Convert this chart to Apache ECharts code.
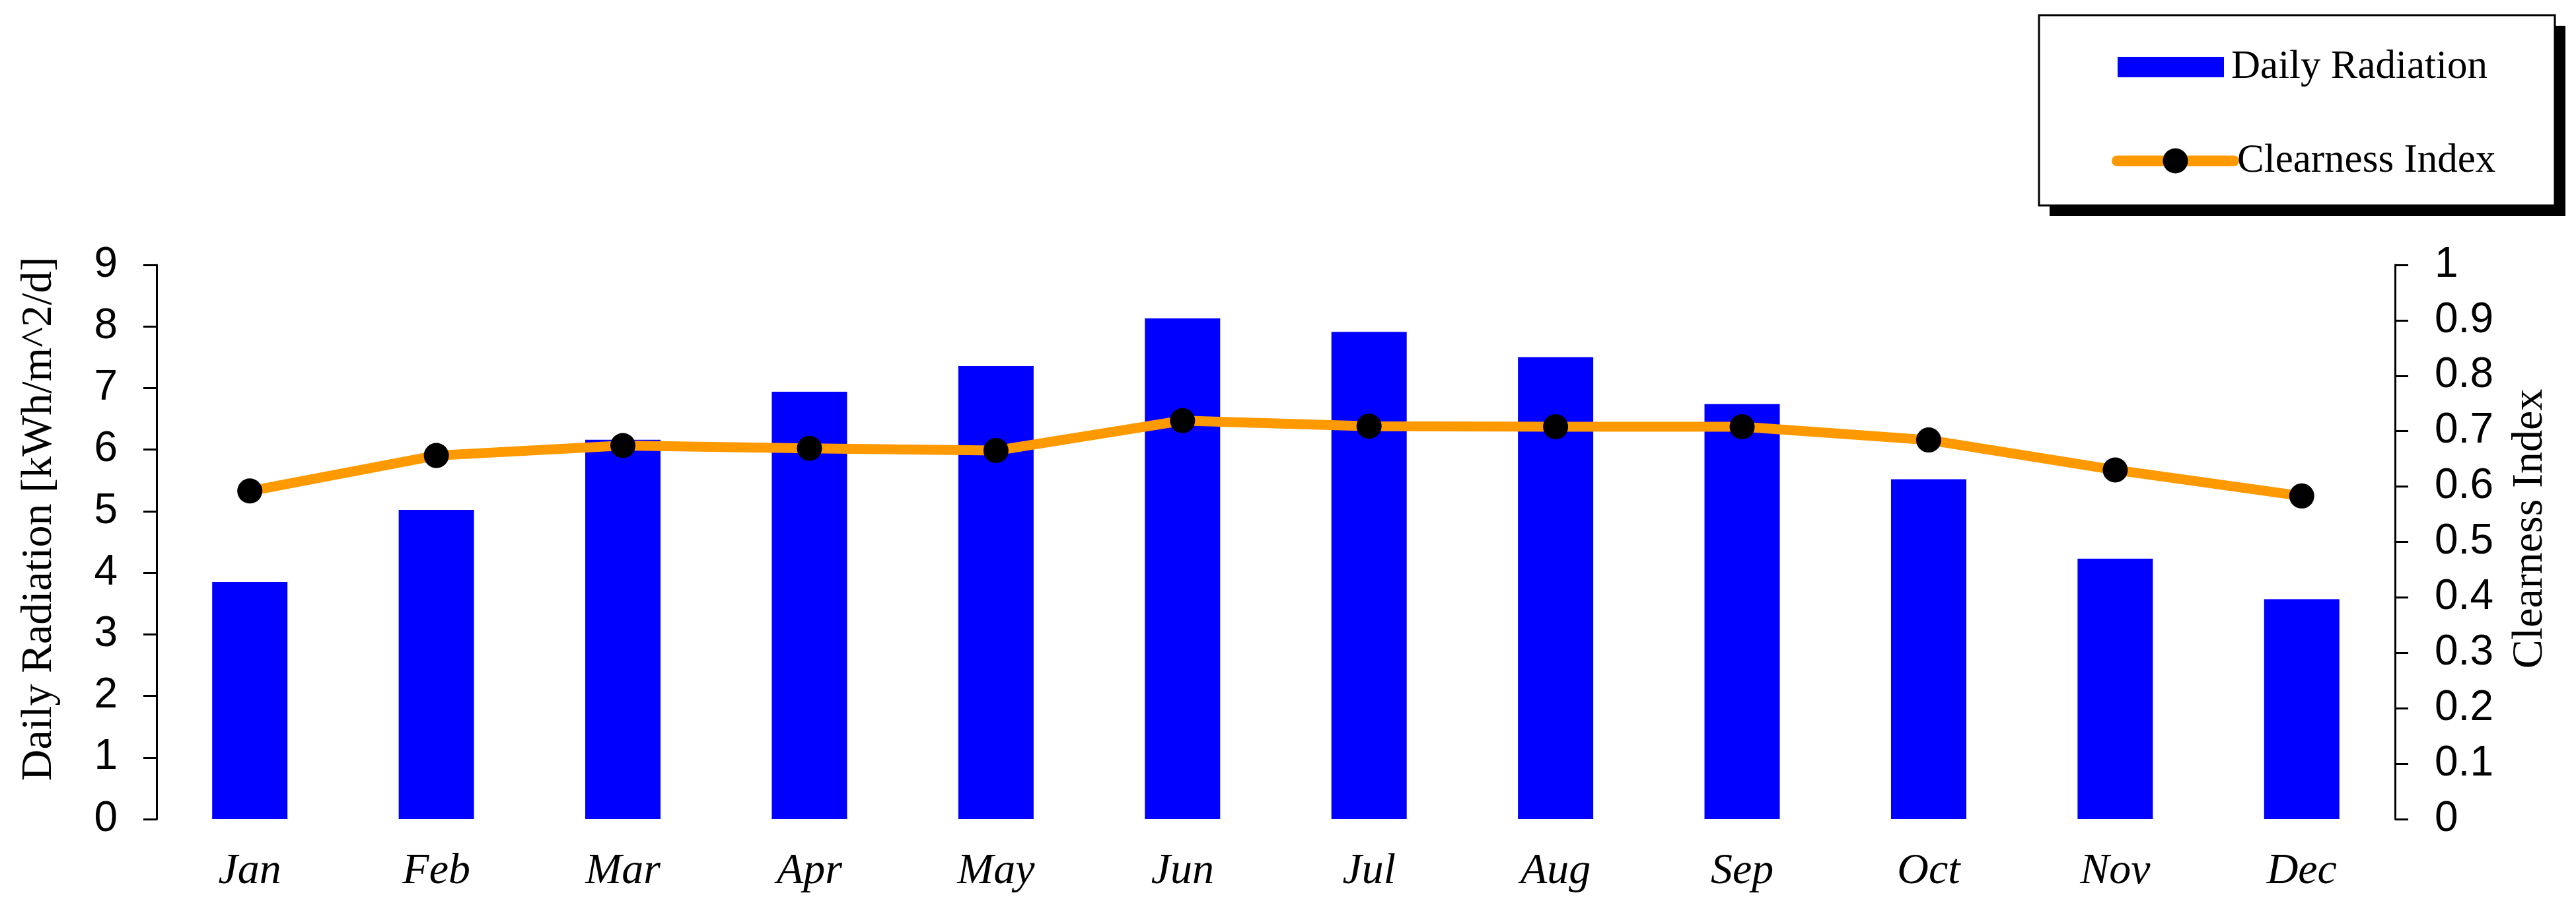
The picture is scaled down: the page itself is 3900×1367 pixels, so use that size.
<!DOCTYPE html>
<html>
<head>
<meta charset="utf-8">
<script src="https://cdn.jsdelivr.net/npm/echarts@6/dist/echarts.min.js"></script>
<style>
  html, body { margin: 0; padding: 0; background: #fff; }
  #main { width: 3900px; height: 1367px; }
</style>
</head>
<body>
<div id="main"></div>
<script>
  var months = ['Jan', 'Feb', 'Mar', 'Apr', 'May', 'Jun', 'Jul', 'Aug', 'Sep', 'Oct', 'Nov', 'Dec'];
  var dailyRadiation = [3.85, 5.02, 6.16, 6.94, 7.36, 8.13, 7.91, 7.50, 6.74, 5.52, 4.23, 3.57];
  var clearnessIndex = [0.592, 0.656, 0.674, 0.669, 0.665, 0.719, 0.709, 0.708, 0.708, 0.684, 0.630, 0.583];
  // axis ranges / tick steps
  var radiationAxis = [0, 9, 1];
  var clearnessAxis = [0, 1, 0.1];

  var serif = 'Liberation Serif';
  var sans = 'Liberation Sans';

  var chart = echarts.init(document.getElementById('main'));
  chart.setOption({
    animation: false,
    backgroundColor: '#fff',
    grid: { left: 237, right: 274, top: 401, bottom: 127, outerBoundsMode: 'none' },
    graphic: [
      // legend box with hard shadow
      { type: 'rect', z: 0, shape: { x: 3103, y: 39, width: 781, height: 288 }, style: { fill: '#000' } },
      { type: 'rect', z: 1, shape: { x: 3087, y: 23, width: 781, height: 288 }, style: { fill: '#fff', stroke: '#000', lineWidth: 3 } }
    ],
    legend: [{
      data: ['Daily Radiation'],
      left: 3201, top: 66,
      icon: 'rect',
      itemWidth: 161, itemHeight: 31,
      textStyle: { fontFamily: serif, fontSize: 61, color: '#000', padding: [0, 0, 0, 6] }
    }, {
      data: ['Clearness Index'],
      left: 3192, top: 208,
      itemWidth: 177, itemHeight: 47.5,
      lineStyle: { color: '#FF9900', width: 16, cap: 'round' },
      textStyle: { fontFamily: serif, fontSize: 61, color: '#000', padding: [0, 0, 0, 0] }
    }],
    xAxis: {
      type: 'category',
      data: months,
      axisLine: { show: false },
      axisTick: { show: false },
      axisLabel: { fontFamily: serif, fontStyle: 'italic', fontSize: 66, color: '#000', margin: 47 }
    },
    yAxis: [{
      type: 'value',
      position: 'left',
      min: radiationAxis[0], max: radiationAxis[1], interval: radiationAxis[2],
      name: 'Daily Radiation [kWh/m^2/d]',
      nameLocation: 'middle',
      nameGap: 144,
      nameMoveOverlap: false,
      nameTextStyle: { fontFamily: serif, fontSize: 66, color: '#000', padding: [0, 0, 0, 70] },
      axisLine: { show: true, lineStyle: { color: '#000', width: 3 } },
      axisTick: { show: true, length: 20, lineStyle: { color: '#000', width: 3 } },
      axisLabel: { fontFamily: sans, fontSize: 64, color: '#000', margin: 59 },
      splitLine: { show: false }
    }, {
      type: 'value',
      position: 'right',
      min: clearnessAxis[0], max: clearnessAxis[1], interval: clearnessAxis[2],
      name: 'Clearness Index',
      nameLocation: 'middle',
      nameRotate: 90,
      nameGap: 172,
      nameMoveOverlap: false,
      nameTextStyle: { fontFamily: serif, fontSize: 66, color: '#000', padding: [0, 0, 0, 40] },
      axisLine: { show: true, lineStyle: { color: '#000', width: 3 } },
      axisTick: { show: true, length: 20, lineStyle: { color: '#000', width: 3 } },
      axisLabel: { fontFamily: sans, fontSize: 64, color: '#000', margin: 60 },
      splitLine: { show: false }
    }],
    series: [{
      name: 'Daily Radiation',
      type: 'bar',
      data: dailyRadiation,
      barWidth: 114,
      itemStyle: { color: '#0000FF' }
    }, {
      name: 'Clearness Index',
      type: 'line',
      yAxisIndex: 1,
      data: clearnessIndex,
      symbol: 'circle',
      symbolSize: 38,
      itemStyle: { color: '#000' },
      lineStyle: { color: '#FF9900', width: 15, cap: 'round' },
      z: 3
    }]
  });
</script>
</body>
</html>
